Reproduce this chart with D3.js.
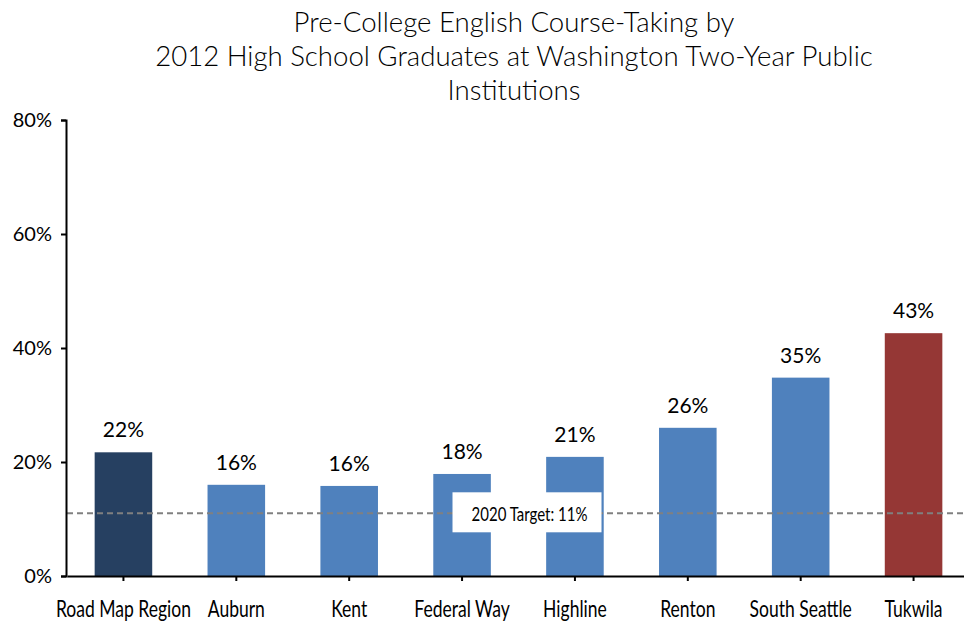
<!DOCTYPE html>
<html>
<head>
<meta charset="utf-8">
<script src="https://cdn.jsdelivr.net/npm/d3@7"></script>
<style>
  body { margin: 0; background: #fff; }
  svg text { fill: #000; }
</style>
</head>
<body>
<div id="chart"></div>
<script>
var titleLines = ["Pre-College English Course-Taking by",
  "2012 High School Graduates at Washington Two-Year Public",
  "Institutions"];
var categories = ["Road Map Region", "Auburn", "Kent", "Federal Way", "Highline", "Renton", "South Seattle", "Tukwila"];
var values = [0.217, 0.16, 0.158, 0.179, 0.209, 0.26, 0.348, 0.426];
var barColors = ["#264061", "#4f81bd", "#4f81bd", "#4f81bd", "#4f81bd", "#4f81bd", "#4f81bd", "#953735"];
var yTicks = [0, 0.2, 0.4, 0.6, 0.8];
var target = 0.11;
var targetLabel = "2020 Target: 11%";

var width = 964, height = 627;
var labelFont = "Lato, sans-serif";

var svg = d3.select("#chart").append("svg")
  .attr("width", width)
  .attr("height", height);

var x = d3.scaleBand().domain(categories).range([67, 970]).paddingInner(0.49).paddingOuter(0.245);
var y = d3.scaleLinear().domain([0, 0.8]).range([576, 120]);

// title
svg.append("g").selectAll("text").data(titleLines)
  .enter().append("text")
  .attr("x", 514)
  .attr("y", function (d, i) { return 32 + i * 34; })
  .attr("text-anchor", "middle")
  .style("font-family", "Lato, sans-serif")
  .style("font-weight", 300)
  .style("font-size", "27.6px")
  .text(function (d) { return d; });

// bars
svg.append("g").selectAll("rect").data(values)
  .enter().append("rect")
  .attr("x", function (d, i) { return x(categories[i]); })
  .attr("width", x.bandwidth())
  .attr("y", function (d) { return y(d); })
  .attr("height", function (d) { return y(0) - y(d); })
  .style("fill", function (d, i) { return barColors[i]; });

// value labels
svg.append("g").selectAll("text").data(values)
  .enter().append("text")
  .attr("x", function (d, i) { return x(categories[i]) + x.bandwidth() / 2; })
  .attr("y", function (d) { return y(d) - 15; })
  .attr("text-anchor", "middle")
  .style("font-family", "Lato, sans-serif")
  .style("font-size", "21px")
  .text(d3.format(".0%"));

// target line
svg.append("line")
  .attr("x1", 67).attr("x2", width)
  .attr("y1", y(target)).attr("y2", y(target))
  .style("stroke", "#808080")
  .style("stroke-width", 2)
  .style("stroke-dasharray", "6,4");

var tx = (x("Federal Way") + x("Highline") + x.bandwidth()) / 2 + 8;
svg.append("rect")
  .attr("x", tx - 74).attr("y", y(target) - 21)
  .attr("width", 149).attr("height", 40)
  .style("fill", "#fff");
svg.append("text")
  .attr("transform", "translate(" + (tx + 3) + "," + (y(target) + 8) + ") scale(0.75,1)")
  .attr("text-anchor", "middle")
  .style("font-family", labelFont)
  .style("font-size", "20px")
  .text(targetLabel);

// y axis
var yAxis = svg.append("g")
  .attr("transform", "translate(66,0)")
  .call(d3.axisLeft(y).tickValues(yTicks).tickFormat(d3.format(".0%")).tickSize(5).tickPadding(9));
yAxis.select(".domain").style("stroke", "#000").style("stroke-width", 2);
yAxis.selectAll(".tick line").style("stroke", "#000").style("stroke-width", 2);
yAxis.selectAll("text")
  .style("font-family", "Lato, sans-serif")
  .style("font-size", "20px")
  .style("fill", "#000");

// x axis
var xAxis = svg.append("g")
  .attr("transform", "translate(0,576)")
  .call(d3.axisBottom(x).tickSizeInner(5).tickSizeOuter(0).tickPadding(19));
xAxis.select(".domain").style("stroke", "#000").style("stroke-width", 2);
xAxis.selectAll(".tick line").style("stroke", "#000").style("stroke-width", 2);
xAxis.selectAll("text")
  .attr("transform", "scale(0.73,1)")
  .style("font-family", labelFont)
  .style("font-size", "24px")
  .style("fill", "#000");
</script>
</body>
</html>
